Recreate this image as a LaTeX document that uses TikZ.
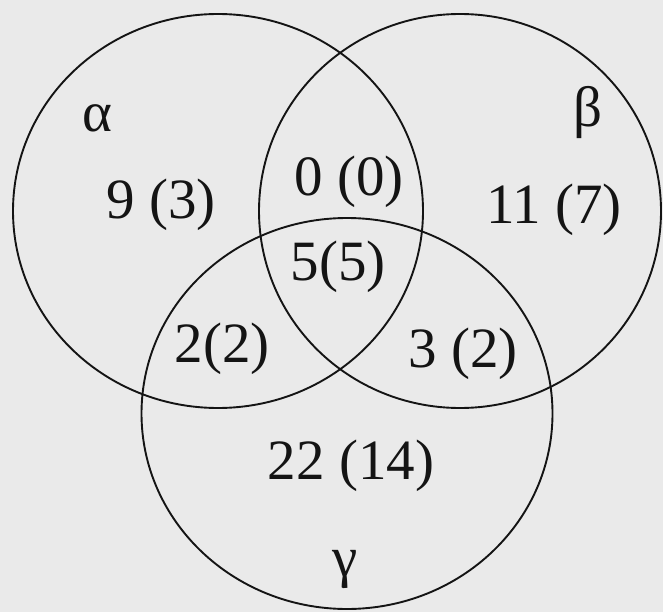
\documentclass[tikz,border=0pt]{standalone}
\usepackage{fontspec}
\setmainfont{Liberation Serif}
\definecolor{bg}{RGB}{234,234,234}
\definecolor{ink}{RGB}{20,20,20}
\begin{document}
\begin{tikzpicture}[x=1pt,y=-1pt,
  setcirc/.style={draw=ink,line width=1.9pt},
  lbl/.style={text=ink,font=\fontsize{57}{57}\selectfont,inner sep=0pt,anchor=center}]
\fill[bg] (0,0) rectangle (663,612);
\useasboundingbox (0,0) rectangle (663,612);
\draw[setcirc] (218,211) ellipse [x radius=205, y radius=197];
\draw[setcirc] (460,211) ellipse [x radius=201, y radius=197];
\draw[setcirc] (347,413.5) ellipse [x radius=205.5, y radius=195.5];
\node[lbl] (la) at (97,118) {α};
\node[lbl] (lb) at (588,113) {β};
\node[lbl] (lg) at (345,569) {γ};
\node[lbl] (a) at (161,205) {9 (3)};
\node[lbl] (ab) at (349,182) {0 (0)};
\node[lbl] (b) at (554,210) {11 (7)};
\node[lbl] (abg) at (338,267) {5(5)};
\node[lbl] (ag) at (222,349) {2(2)};
\node[lbl] (bg) at (463,354) {3 (2)};
\node[lbl] (g) at (351,466) {22 (14)};
\end{tikzpicture}
\end{document}
